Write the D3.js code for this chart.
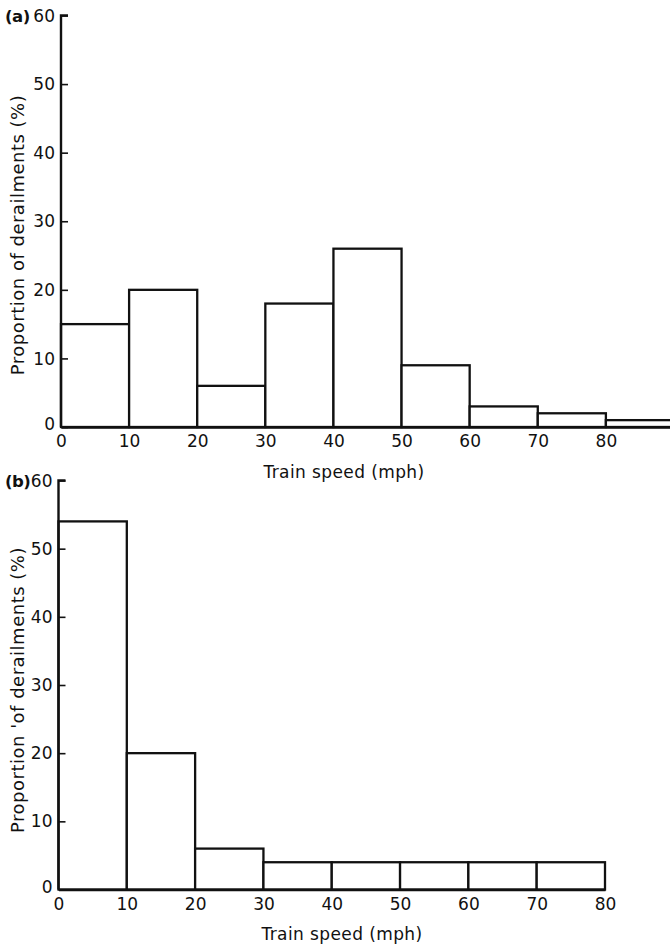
<!DOCTYPE html>
<meta charset="utf-8">
<script src="https://cdn.jsdelivr.net/npm/d3@7"></script>
<style>
  body { margin: 0; background: #fff; }
  .lbl { font-family: "DejaVu Sans", sans-serif; fill: #111; }
</style>
<body>
<script>
// speed bins (lower edge, mph), each 10 mph wide
var speedsA = [0, 10, 20, 30, 40, 50, 60, 70, 80];
var shareA  = [15, 20, 6, 18, 26, 9, 3, 2, 1];
var speedsB = [0, 10, 20, 30, 40, 50, 60, 70];
var shareB  = [54, 20, 6, 4, 4, 4, 4, 4];
var yTicks  = [0, 10, 20, 30, 40, 50, 60];
var xTicks  = [0, 10, 20, 30, 40, 50, 60, 70, 80];

var svg = d3.select("body").append("svg")
    .attr("width", 670)
    .attr("height", 946);

function panel(o) {
  var x = d3.scaleLinear().domain([0, o.xmax]).range([o.x0, o.x1]);
  var y = d3.scaleLinear().domain([0, 60]).range([o.y0, o.y1]);
  var g = svg.append("g");

  g.selectAll("rect.bar")
      .data(o.speeds)
      .enter().append("rect")
      .attr("class", "bar")
      .attr("x", function(d) { return x(d); })
      .attr("width", function(d) { return x(d + 10) - x(d); })
      .attr("y", function(d, i) { return y(o.vals[i]); })
      .attr("height", function(d, i) { return y(0) - y(o.vals[i]); })
      .style("fill", "white")
      .style("stroke", "#111")
      .style("stroke-width", 2.3);

  // y axis, ticks pointing inward
  var ya = g.append("g")
      .attr("transform", "translate(" + o.x0 + ",0)")
      .call(d3.axisRight(y).tickValues(yTicks).tickSize(7).tickFormat(""));
  ya.select(".domain").attr("stroke", "#111").attr("stroke-width", 2.4).attr("d", "M0," + y(0) + "V" + y(60) + "H7");
  ya.selectAll(".tick line").attr("stroke", "#111").attr("stroke-width", 1.6);

  g.selectAll("text.yt")
      .data(yTicks)
      .enter().append("text")
      .attr("class", "lbl")
      .attr("x", o.x0 - 6)
      .attr("y", function(d) { return y(d) - (d == 0 ? 3 : 0); })
      .attr("dy", "0.36em")
      .attr("text-anchor", "end")
      .attr("font-size", "17px")
      .text(function(d) { return d; });

  // x axis
  var xa = g.append("g")
      .attr("transform", "translate(0," + o.y0 + ")")
      .call(d3.axisBottom(x).tickValues(xTicks).tickSize(0).tickPadding(8));
  xa.select(".domain").attr("stroke", "#111").attr("stroke-width", 2.4);
  xa.selectAll("text").attr("class", "lbl").attr("font-size", "17px").style("font-family", "DejaVu Sans");

  g.append("text")
      .attr("class", "lbl")
      .attr("x", o.titleX)
      .attr("y", o.titleY)
      .attr("text-anchor", "middle")
      .attr("font-size", "17px")
      .attr("letter-spacing", "0.4px")
      .text("Train speed  (mph)");

  g.append("text")
      .attr("class", "lbl")
      .attr("transform", "translate(" + o.ylabX + "," + o.ylabY + ") rotate(-90)")
      .attr("text-anchor", "middle")
      .attr("font-size", "18px")
      .attr("letter-spacing", "0.5px")
      .text(o.ylab);

  g.append("text")
      .attr("class", "lbl")
      .attr("x", 5)
      .attr("y", y(60) + 6)
      .attr("font-size", "16.5px")
      .attr("font-weight", "bold")
      .attr("letter-spacing", "-0.5px")
      .text(o.tag);
}

panel({ tag: "(a)", speeds: speedsA, vals: shareA, xmax: 90,
        x0: 61, x1: 674, y0: 427, y1: 15.5,
        titleX: 344, titleY: 478, ylabX: 24, ylabY: 235,
        ylab: "Proportion of derailments (%)" });

panel({ tag: "(b)", speeds: speedsB, vals: shareB, xmax: 80,
        x0: 58.5, x1: 605, y0: 889.5, y1: 480.5,
        titleX: 342, titleY: 940, ylabX: 24, ylabY: 690,
        ylab: "Proportion  'of derailments  (%)" });
</script>
</body>
</html>
